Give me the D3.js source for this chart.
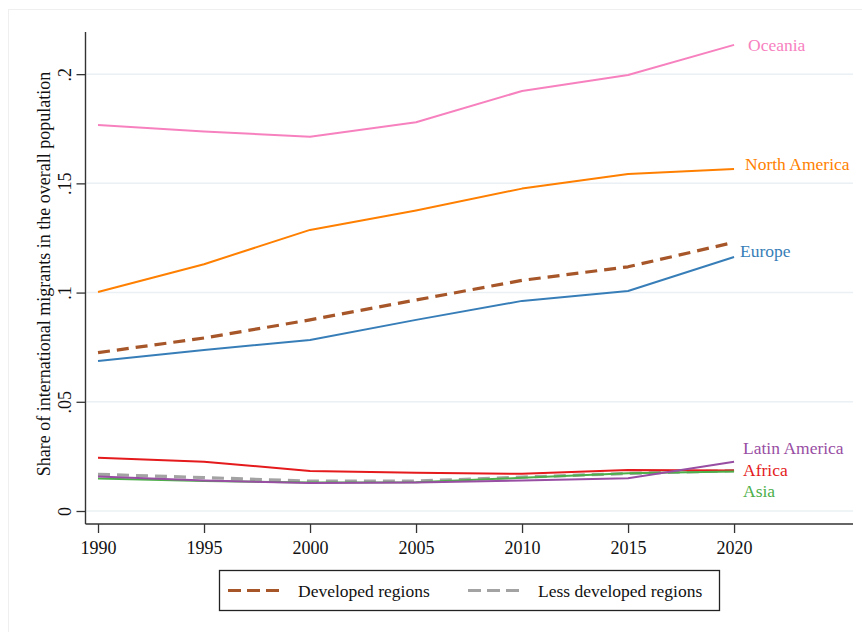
<!DOCTYPE html>
<html>
<head>
<meta charset="utf-8">
<script src="https://cdn.jsdelivr.net/npm/d3@7"></script>
<style>
  html, body { margin: 0; padding: 0; background: #ffffff; }
  svg { display: block; }
  text { font-family: "Liberation Serif", "Times New Roman", serif; }
</style>
</head>
<body>
<div id="chart"></div>
<script>
const years = [1990, 1995, 2000, 2005, 2010, 2015, 2020];
const xTicks = [1990, 1995, 2000, 2005, 2010, 2015, 2020];
const yTicks = [0, 0.05, 0.1, 0.15, 0.2];
const yTickLabels = ["0", ".05", ".1", ".15", ".2"];

const oceania      = [0.1767, 0.1738, 0.1713, 0.1780, 0.1923, 0.1996, 0.2134];
const northAmerica = [0.1003, 0.1130, 0.1287, 0.1376, 0.1476, 0.1543, 0.1566];
const europe       = [0.0687, 0.0737, 0.0783, 0.0875, 0.0962, 0.1007, 0.1163];
const developed    = [0.0725, 0.0792, 0.0875, 0.0966, 0.1056, 0.1118, 0.1230];
const africa       = [0.0244, 0.0226, 0.0183, 0.0175, 0.0170, 0.0188, 0.0186];
const lessDeveloped= [0.0168, 0.0153, 0.0137, 0.0137, 0.0155, 0.0172, 0.0185];
const asia         = [0.0149, 0.0137, 0.0130, 0.0132, 0.0152, 0.0173, 0.0181];
const latinAmerica = [0.0158, 0.0140, 0.0128, 0.0130, 0.0140, 0.0150, 0.0226];

const seriesNames = ["Developed regions", "Less developed regions", "Africa", "Asia", "Europe", "Latin America", "North America", "Oceania"];
const legendNames = ["Developed regions", "Less developed regions"];
const yTitle = "Share of international migrants in the overall population";

const W = 862, H = 632;
const svg = d3.select("#chart").append("svg").attr("width", W).attr("height", H);

// outer graph region border
svg.append("rect").attr("x", 8.5).attr("y", 9.5).attr("width", W - 8).attr("height", H - 8)
  .attr("fill", "#ffffff").attr("stroke", "#efefef").attr("stroke-width", 1);

const x = d3.scaleLinear().domain([1989.41, 2025.61]).range([85.5, 853]);
const y = d3.scaleLinear().domain([-0.00595, 0.2193]).range([524, 32]);

// gridlines
svg.append("g").selectAll("line").data(yTicks).join("line")
  .attr("x1", x(1989.41) + 1).attr("x2", x(2025.61))
  .attr("y1", d => y(d)).attr("y2", d => y(d))
  .attr("stroke", "#eaf0f3").attr("stroke-width", 1.5);

// axes
const yAxis = d3.axisLeft(y).tickValues(yTicks).tickSize(9).tickFormat((d, i) => yTickLabels[i]);
const gy = svg.append("g").attr("transform", `translate(${x(1989.41)},0)`).call(yAxis);
gy.select(".domain").attr("stroke", "#333").attr("stroke-width", 1.4).attr("d", `M0,${y(-0.00595)}V${y(0.2193)}`);
gy.selectAll(".tick line").attr("stroke", "#333").attr("stroke-width", 1.3);
gy.selectAll(".tick text")
  .attr("font-size", 18).attr("fill", "#111")
  .attr("x", null).attr("dy", null)
  .attr("text-anchor", "middle")
  .attr("transform", "translate(-15,0) rotate(-90)");

const xAxis = d3.axisBottom(x).tickValues(xTicks).tickSize(9).tickFormat(d3.format("d"));
const gx = svg.append("g").attr("transform", `translate(0,${y(-0.00595)})`).call(xAxis);
gx.select(".domain").attr("stroke", "#333").attr("stroke-width", 1.4).attr("d", `M${x(1989.41)},0H${x(2025.61)}`);
gx.selectAll(".tick line").attr("stroke", "#333").attr("stroke-width", 1.3);
gx.selectAll(".tick text").attr("font-size", 18).attr("fill", "#111").attr("y", 17).attr("dy", "0.71em");

// y title
svg.append("text")
  .attr("transform", `translate(50,${(y(-0.00595) + y(0.2193)) / 2 - 4}) rotate(-90)`)
  .attr("text-anchor", "middle").attr("font-size", 18).attr("fill", "#111")
  .text(yTitle);

const line = d3.line().x((d, i) => x(years[i])).y(d => y(d));

const series = [
  { name: seriesNames[0], values: developed, color: "#a65628", width: 3.2, dash: "12,7" },
  { name: seriesNames[1], values: lessDeveloped, color: "#a3a3a3", width: 3.2, dash: "12,7" },
  { name: seriesNames[2], values: africa, color: "#e41a1c", width: 2 },
  { name: seriesNames[3], values: asia, color: "#4daf4a", width: 2 },
  { name: seriesNames[4], values: europe, color: "#377eb8", width: 2 },
  { name: seriesNames[5], values: latinAmerica, color: "#984ea3", width: 2 },
  { name: seriesNames[6], values: northAmerica, color: "#ff7f00", width: 2 },
  { name: seriesNames[7], values: oceania, color: "#f781bf", width: 2 }
];

svg.append("g").selectAll("path").data(series).join("path")
  .attr("d", d => line(d.values))
  .attr("fill", "none")
  .attr("stroke", d => d.color)
  .attr("stroke-width", d => d.width)
  .attr("stroke-dasharray", d => d.dash || null)
  .attr("stroke-linejoin", "round");

// end labels
const labels = [
  { text: "Oceania", color: "#f781bf", dx: 14, val: oceania[6], dy: 6 },
  { text: "North America", color: "#ff7f00", dx: 11, val: northAmerica[6], dy: 1 },
  { text: "Europe", color: "#377eb8", dx: 6, val: europe[6], dy: 0 },
  { text: "Latin America", color: "#984ea3", dx: 9, val: latinAmerica[6], dy: -8 },
  { text: "Africa", color: "#e41a1c", dx: 9, val: africa[6], dy: 6 },
  { text: "Asia", color: "#4daf4a", dx: 9, val: asia[6], dy: 26 }
];
svg.append("g").selectAll("text").data(labels).join("text")
  .attr("x", d => x(2020) + d.dx)
  .attr("y", d => y(d.val) + d.dy)
  .attr("font-size", 17.5).attr("fill", d => d.color)
  .text(d => d.text);

// legend
const lg = svg.append("g");
lg.append("rect").attr("x", 219.5).attr("y", 570.5).attr("width", 500).attr("height", 40)
  .attr("fill", "#fff").attr("stroke", "#222").attr("stroke-width", 1.3);
const legendItems = [
  { name: legendNames[0], color: "#a65628", x0: 228, tx: 298 },
  { name: legendNames[1], color: "#a3a3a3", x0: 468, tx: 538 }
];
legendItems.forEach(it => {
  lg.append("line").attr("x1", it.x0).attr("x2", it.x0 + 52).attr("y1", 590.5).attr("y2", 590.5)
    .attr("stroke", it.color).attr("stroke-width", 3.2).attr("stroke-dasharray", "13,6");
  lg.append("text").attr("x", it.tx).attr("y", 597).attr("font-size", 17.5).attr("fill", "#111").text(it.name);
});
</script>
</body>
</html>
